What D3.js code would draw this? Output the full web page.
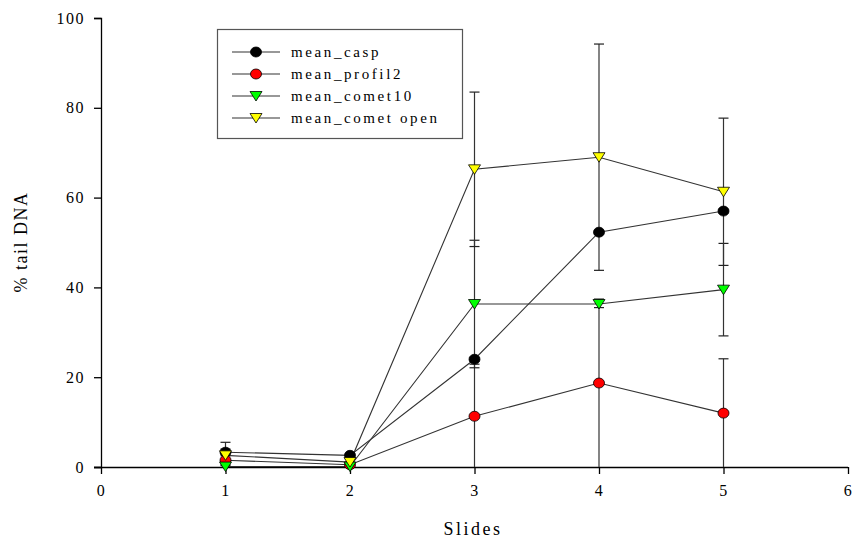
<!DOCTYPE html>
<html>
<head>
<meta charset="utf-8">
<script src="https://cdn.jsdelivr.net/npm/d3@7"></script>
<style>
  body { margin: 0; background: #fff; }
  .vis { width: 853px; height: 539px; }
  text { font-family: "Liberation Serif", "Times New Roman", serif; fill: #000; }
</style>
</head>
<body>
<div class="vis"></div>
<script>
(function() {
  'use strict';

  var slides = [1, 2, 3, 4, 5];
  var seriesNames = ['mean_casp', 'mean_profil2', 'mean_comet10', 'mean_comet open'];
  var casp = [3.3, 2.6, 24.0, 52.3, 57.0];
  var caspErr = [2.2, 0.4, 0.4, 0.4, 0.4];
  var profil2 = [1.5, 0.5, 11.3, 18.7, 12.0];
  var profil2Err = [1.0, 0.4, 11.6, 18.7, 12.1];
  var comet10 = [0.1, 0.1, 36.3, 36.3, 39.5];
  var comet10Err = [0.2, 0.1, 14.2, 0.8, 10.3];
  var cometOpen = [2.6, 1.1, 66.3, 69.0, 61.3];
  var cometOpenErr = [1.4, 0.6, 17.2, 25.2, 16.4];
  var xTicks = [0, 1, 2, 3, 4, 5, 6];
  var yTicks = [0, 20, 40, 60, 80, 100];

  var series = [
    {name: seriesNames[0], values: casp, err: caspErr, fill: '#000000', shape: 'circle'},
    {name: seriesNames[1], values: profil2, err: profil2Err, fill: '#ff0000', shape: 'circle'},
    {name: seriesNames[2], values: comet10, err: comet10Err, fill: '#00ff00', shape: 'tri'},
    {name: seriesNames[3], values: cometOpen, err: cometOpenErr, fill: '#ffff00', shape: 'tri'}
  ];

  var el = d3.select('.vis'),
    elWidth = 853,
    elHeight = 539;

  var svg = el.append('svg')
    .attr('width', elWidth)
    .attr('height', elHeight);

  var x = d3.scaleLinear().domain([0, 6]).range([101, 848]);
  var y = d3.scaleLinear().domain([0, 100]).range([467, 18]);

  // axes
  var xAxis = d3.axisBottom(x).tickValues(xTicks).tickSize(7).tickPadding(11).tickFormat(d3.format('d'));
  var yAxis = d3.axisLeft(y).tickValues(yTicks).tickSize(7).tickPadding(9).tickFormat(d3.format('d'));

  var gx = svg.append('g').attr('transform', 'translate(0,467)').call(xAxis);
  var gy = svg.append('g').attr('transform', 'translate(101,0)').call(yAxis);
  [gx, gy].forEach(function(g) {
    g.select('.domain').attr('stroke', '#000').attr('stroke-width', 1.3);
    g.selectAll('.tick line').attr('stroke', '#000').attr('stroke-width', 1.3);
    g.selectAll('.tick text')
      .style('font-family', '"Liberation Serif", serif')
      .style('font-size', '16px')
      .style('letter-spacing', '1.5px')
      .attr('fill', '#000');
  });
  gx.select('.domain').attr('d', 'M94,0.5H848');

  svg.append('text')
    .attr('x', 473).attr('y', 535)
    .attr('text-anchor', 'middle')
    .style('font-size', '18px')
    .style('letter-spacing', '2.5px')
    .text('Slides');

  svg.append('text')
    .attr('transform', 'translate(27,242) rotate(-90)')
    .attr('text-anchor', 'middle')
    .style('font-size', '18px')
    .style('letter-spacing', '1.5px')
    .text('% tail DNA');

  var plot = svg.append('g');

  // error bars
  series.forEach(function(s) {
    var g = plot.append('g');
    slides.forEach(function(sl, i) {
      var lo = Math.max(0, s.values[i] - s.err[i]);
      var hi = s.values[i] + s.err[i];
      g.append('line')
        .attr('x1', x(sl)).attr('x2', x(sl))
        .attr('y1', y(lo)).attr('y2', y(hi))
        .attr('stroke', '#333').attr('stroke-width', 1.2);
      g.append('line')
        .attr('x1', x(sl) - 5).attr('x2', x(sl) + 5)
        .attr('y1', y(hi)).attr('y2', y(hi))
        .attr('stroke', '#222').attr('stroke-width', 1.2);
      if (s.values[i] - s.err[i] > 0.05) {
        g.append('line')
          .attr('x1', x(sl) - 5).attr('x2', x(sl) + 5)
          .attr('y1', y(lo)).attr('y2', y(lo))
          .attr('stroke', '#222').attr('stroke-width', 1.2);
      }
    });
  });

  var line = d3.line()
    .x(function(d, i) { return x(slides[i]); })
    .y(function(d) { return y(d); });

  series.forEach(function(s) {
    plot.append('path')
      .attr('d', line(s.values))
      .attr('fill', 'none')
      .attr('stroke', '#333')
      .attr('stroke-width', 1.1);
  });

  function marker(g, s, cx, cy) {
    if (s.shape === 'circle') {
      g.append('ellipse')
        .attr('cx', cx).attr('cy', cy)
        .attr('rx', 5.5).attr('ry', 5)
        .attr('fill', s.fill).attr('stroke', '#000').attr('stroke-width', 0.8);
    } else {
      g.append('path')
        .attr('d', 'M' + (cx - 6) + ',' + (cy - 4.5) + 'L' + (cx + 6) + ',' + (cy - 4.5) + 'L' + cx + ',' + (cy + 5) + 'Z')
        .attr('fill', s.fill).attr('stroke', '#000').attr('stroke-width', 0.8);
    }
  }

  series.forEach(function(s) {
    var g = plot.append('g');
    s.values.forEach(function(v, i) {
      marker(g, s, x(slides[i]), y(v));
    });
  });

  // legend
  var legend = svg.append('g');
  legend.append('rect')
    .attr('x', 217.5).attr('y', 29.5)
    .attr('width', 245).attr('height', 109)
    .attr('fill', '#fff').attr('stroke', '#555').attr('stroke-width', 1.2);

  series.forEach(function(s, i) {
    var ly = 52 + i * 22;
    legend.append('line')
      .attr('x1', 232).attr('x2', 280)
      .attr('y1', ly).attr('y2', ly)
      .attr('stroke', '#333').attr('stroke-width', 1.1);
    marker(legend, s, 256, ly);
    legend.append('text')
      .attr('x', 291).attr('y', ly + 5)
      .style('font-size', '15px')
      .style('letter-spacing', '2.6px')
      .text(s.name);
  });

}());
</script>
</body>
</html>
